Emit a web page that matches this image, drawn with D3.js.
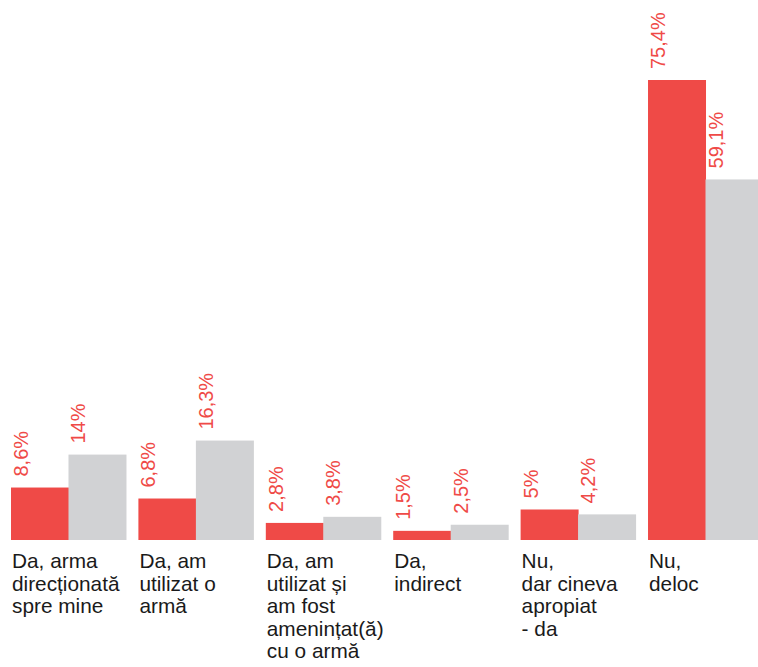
<!DOCTYPE html>
<html>
<head>
<meta charset="utf-8">
<script src="https://cdn.jsdelivr.net/npm/d3@7"></script>
<style>
  body { margin: 0; background: #fff; }
  svg { display: block; }
</style>
</head>
<body>
<script>
const categories = [
  ["Da, arma", "direcționată", "spre mine"],
  ["Da, am", "utilizat o", "armă"],
  ["Da, am", "utilizat și", "am fost", "amenințat(ă)", "cu o armă"],
  ["Da,", "indirect"],
  ["Nu,", "dar cineva", "apropiat", "- da"],
  ["Nu,", "deloc"]
];
const seriesRed = [8.6, 6.8, 2.8, 1.5, 5, 75.4];
const seriesGray = [14, 16.3, 3.8, 2.5, 4.2, 59.1];
const seriesNames = ["red", "gray"];

const width = 758;
const height = 667;
const colorRed = "#ef4a47";
const colorGray = "#d1d2d4";
const fontFamily = "'Liberation Sans', Arial, Helvetica, sans-serif";

const data = categories.map((c, i) => ({
  id: i,
  lines: c,
  values: [
    {key: "red", value: seriesRed[i]},
    {key: "gray", value: seriesGray[i]}
  ]
}));

const x = d3.scaleBand()
  .domain(data.map(d => d.id))
  .range([11, 763])
  .paddingInner(0.0975)
  .paddingOuter(0);

const xInner = d3.scaleBand()
  .domain(seriesNames)
  .range([0, x.bandwidth()]);

const y = d3.scaleLinear()
  .domain([0, 75.4])
  .range([540, 80]);

const color = d3.scaleOrdinal()
  .domain(seriesNames)
  .range([colorRed, colorGray]);

const fmt = v => String(v).replace(".", ",") + "%";

const svg = d3.select("body").append("svg")
  .attr("width", width)
  .attr("height", height);

const group = svg.append("g")
  .selectAll("g")
  .data(data)
  .join("g")
    .attr("transform", d => `translate(${x(d.id)},0)`);

group.selectAll("rect")
  .data(d => d.values)
  .join("rect")
    .attr("x", d => xInner(d.key))
    .attr("y", d => y(d.value))
    .attr("width", xInner.bandwidth() + 0.5)
    .attr("height", d => y(0) - y(d.value))
    .attr("fill", d => color(d.key));

group.selectAll("text.value")
  .data(d => d.values)
  .join("text")
    .attr("class", "value")
    .attr("transform", d => `translate(${xInner(d.key) + 17},${y(d.value) - 11}) rotate(-90)`)
    .attr("font-family", fontFamily)
    .attr("font-size", 20)
    .attr("fill", colorRed)
    .text(d => fmt(d.value));

const label = group.append("text")
  .attr("font-family", fontFamily)
  .attr("font-size", 20.8)
  .attr("fill", "#1a1a1a")
  .attr("x", 1)
  .attr("y", 568);

label.selectAll("tspan")
  .data(d => d.lines)
  .join("tspan")
    .attr("x", 1)
    .attr("dy", (d, i) => i === 0 ? 0 : 22.5)
    .text(d => d);
</script>
</body>
</html>
